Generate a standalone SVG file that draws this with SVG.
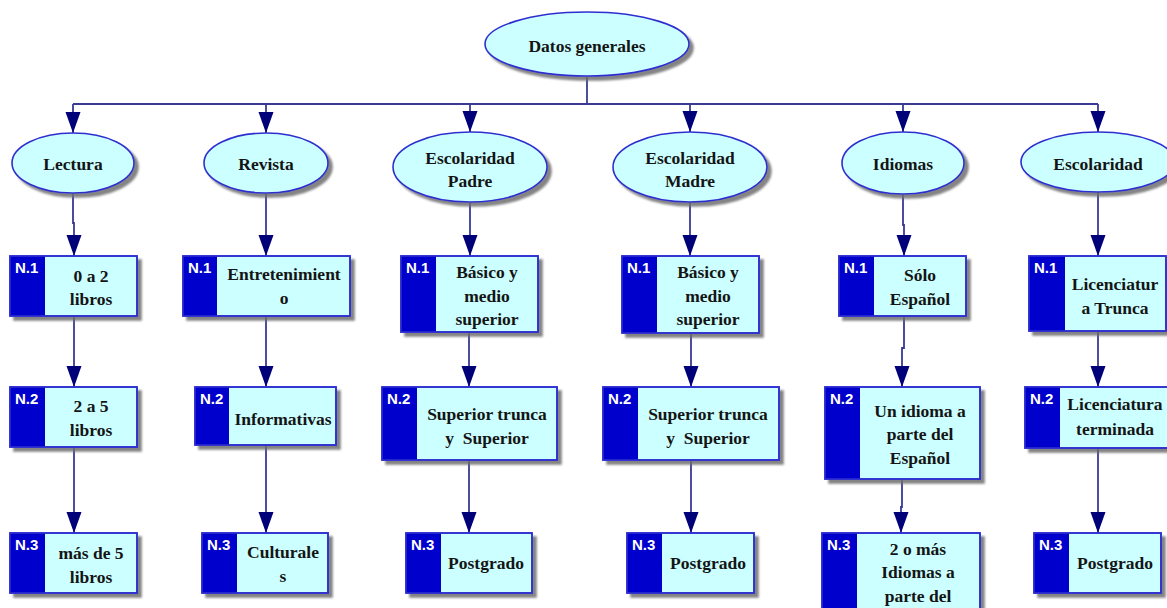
<svg xmlns="http://www.w3.org/2000/svg" width="1167" height="608" viewBox="0 0 1167 608">
  <defs>
    <style>
      .oval { fill: #ccffff; stroke: #2f2fd0; stroke-width: 1.6; filter: url(#shade); }
      .box { fill: #ccffff; stroke: #2f2fd0; stroke-width: 1.6; filter: url(#shade); }
      .tab { fill: #0000cc; }
      .edge { fill: none; stroke: #2f2fd0; stroke-width: 1.6; }
      .t { font-family: "Liberation Serif", "Times New Roman", serif; font-weight: bold; font-size: 17.5px; fill: #141414; text-anchor: middle; }
      .n { font-family: "Liberation Sans", Arial, sans-serif; font-weight: bold; font-size: 15px; fill: #ffffff; }
      .wire { fill: none; stroke: #3a3a94; stroke-width: 1.8; marker-end: url(#head); }
      .bus { fill: none; stroke: #3a3a94; stroke-width: 1.8; }
    </style>
    <filter id="shade" x="-10%" y="-10%" width="130%" height="140%">
      <feDropShadow dx="4" dy="4" stdDeviation="1" flood-color="#6e6e6e" flood-opacity="0.85"/>
    </filter>
    <marker id="head" viewBox="0 -8 22 16" refX="21" refY="0" markerWidth="22" markerHeight="16" markerUnits="userSpaceOnUse" orient="auto">
      <path d="M0,-7.5 L21,0 L0,7.5 Z" fill="#000078"/>
    </marker>
  </defs>

  <!-- connectors -->
  <g id="connectors">
    <path class="bus" d="M587,76 V104"/>
    <path class="bus" d="M73,104 H1098"/>
    <path class="wire" d="M73,104 V133"/>
    <path class="wire" d="M266,104 V133"/>
    <path class="wire" d="M470,104 V132"/>
    <path class="wire" d="M690,104 V132"/>
    <path class="wire" d="M903,104 V132"/>
    <path class="wire" d="M1098,104 V132"/>

    <path class="wire" d="M73,193 V223 H74 V256"/>
    <path class="wire" d="M74,316 V387"/>
    <path class="wire" d="M74,447 V533"/>

    <path class="wire" d="M266,193 V256"/>
    <path class="wire" d="M266,316 V387"/>
    <path class="wire" d="M266,445 V533"/>

    <path class="wire" d="M470,202 V256"/>
    <path class="wire" d="M469,332 V387"/>
    <path class="wire" d="M469,460 V533"/>

    <path class="wire" d="M690,202 V256"/>
    <path class="wire" d="M691,333 V387"/>
    <path class="wire" d="M691,460 V533"/>

    <path class="wire" d="M903,194 V225 H904 V256"/>
    <path class="wire" d="M904,316 V348 H902 V387"/>
    <path class="wire" d="M902,479 V507 H901 V533"/>

    <path class="wire" d="M1098,192 V256"/>
    <path class="wire" d="M1098,331 V387"/>
    <path class="wire" d="M1098,448 V533"/>
  </g>

  <!-- root -->
  <g id="datos-generales">
    <ellipse class="oval" cx="587" cy="44" rx="102" ry="32"/>
    <text class="t" x="587" y="52">Datos generales</text>
  </g>

  <!-- categories -->
  <g id="lectura">
    <ellipse class="oval" cx="73" cy="163" rx="61" ry="30"/>
    <text class="t" x="73" y="170">Lectura</text>
  </g>
  <g id="revista">
    <ellipse class="oval" cx="266" cy="163" rx="62" ry="30"/>
    <text class="t" x="266" y="170">Revista</text>
  </g>
  <g id="escolaridad-padre">
    <ellipse class="oval" cx="470" cy="167" rx="77" ry="35"/>
    <text class="t" x="470" y="164">Escolaridad</text>
    <text class="t" x="470" y="187">Padre</text>
  </g>
  <g id="escolaridad-madre">
    <ellipse class="oval" cx="690" cy="167" rx="77" ry="35"/>
    <text class="t" x="690" y="164">Escolaridad</text>
    <text class="t" x="690" y="187">Madre</text>
  </g>
  <g id="idiomas">
    <ellipse class="oval" cx="903" cy="163" rx="61" ry="31"/>
    <text class="t" x="903" y="170">Idiomas</text>
  </g>
  <g id="escolaridad">
    <ellipse class="oval" cx="1098" cy="162" rx="77" ry="30"/>
    <text class="t" x="1098" y="170">Escolaridad</text>
  </g>

  <!-- Lectura levels -->
  <g id="lectura-n1">
    <rect class="box" x="10" y="256" width="127" height="60"/>
    <rect class="tab" x="10" y="256" width="35" height="60"/>
    <rect class="edge" x="10" y="256" width="127" height="60"/>
    <text class="n" x="15" y="273">N.1</text>
    <text class="t" x="91" y="282">0 a 2</text>
    <text class="t" x="91" y="305">libros</text>
  </g>
  <g id="lectura-n2">
    <rect class="box" x="10" y="387" width="127" height="60"/>
    <rect class="tab" x="10" y="387" width="35" height="60"/>
    <rect class="edge" x="10" y="387" width="127" height="60"/>
    <text class="n" x="15" y="404">N.2</text>
    <text class="t" x="91" y="412">2 a 5</text>
    <text class="t" x="91" y="436">libros</text>
  </g>
  <g id="lectura-n3">
    <rect class="box" x="10" y="533" width="127" height="60"/>
    <rect class="tab" x="10" y="533" width="35" height="60"/>
    <rect class="edge" x="10" y="533" width="127" height="60"/>
    <text class="n" x="15" y="550">N.3</text>
    <text class="t" x="91" y="559">más de 5</text>
    <text class="t" x="91" y="583">libros</text>
  </g>

  <!-- Revista levels -->
  <g id="revista-n1">
    <rect class="box" x="183" y="256" width="167" height="60"/>
    <rect class="tab" x="183" y="256" width="34" height="60"/>
    <rect class="edge" x="183" y="256" width="167" height="60"/>
    <text class="n" x="188" y="273">N.1</text>
    <text class="t" x="284" y="280">Entretenimient</text>
    <text class="t" x="284" y="304">o</text>
  </g>
  <g id="revista-n2">
    <rect class="box" x="195" y="387" width="141" height="58"/>
    <rect class="tab" x="195" y="387" width="34" height="58"/>
    <rect class="edge" x="195" y="387" width="141" height="58"/>
    <text class="n" x="200" y="404">N.2</text>
    <text class="t" x="283" y="425">Informativas</text>
  </g>
  <g id="revista-n3">
    <rect class="box" x="202" y="533" width="126" height="60"/>
    <rect class="tab" x="202" y="533" width="35" height="60"/>
    <rect class="edge" x="202" y="533" width="126" height="60"/>
    <text class="n" x="207" y="550">N.3</text>
    <text class="t" x="283" y="558">Culturale</text>
    <text class="t" x="283" y="582">s</text>
  </g>

  <!-- Escolaridad Padre levels -->
  <g id="padre-n1">
    <rect class="box" x="401" y="256" width="137" height="76"/>
    <rect class="tab" x="401" y="256" width="35" height="76"/>
    <rect class="edge" x="401" y="256" width="137" height="76"/>
    <text class="n" x="406" y="273">N.1</text>
    <text class="t" x="487" y="278">Básico y</text>
    <text class="t" x="487" y="302">medio</text>
    <text class="t" x="487" y="325">superior</text>
  </g>
  <g id="padre-n2">
    <rect class="box" x="382" y="387" width="175" height="73"/>
    <rect class="tab" x="382" y="387" width="35" height="73"/>
    <rect class="edge" x="382" y="387" width="175" height="73"/>
    <text class="n" x="387" y="404">N.2</text>
    <text class="t" x="487" y="420">Superior trunca</text>
    <text class="t" x="487" y="444" xml:space="preserve">y  Superior</text>
  </g>
  <g id="padre-n3">
    <rect class="box" x="406" y="533" width="126" height="60"/>
    <rect class="tab" x="406" y="533" width="35" height="60"/>
    <rect class="edge" x="406" y="533" width="126" height="60"/>
    <text class="n" x="411" y="550">N.3</text>
    <text class="t" x="486" y="569">Postgrado</text>
  </g>

  <!-- Escolaridad Madre levels -->
  <g id="madre-n1">
    <rect class="box" x="622" y="256" width="137" height="77"/>
    <rect class="tab" x="622" y="256" width="35" height="77"/>
    <rect class="edge" x="622" y="256" width="137" height="77"/>
    <text class="n" x="627" y="273">N.1</text>
    <text class="t" x="708" y="278">Básico y</text>
    <text class="t" x="708" y="302">medio</text>
    <text class="t" x="708" y="325">superior</text>
  </g>
  <g id="madre-n2">
    <rect class="box" x="603" y="387" width="176" height="73"/>
    <rect class="tab" x="603" y="387" width="35" height="73"/>
    <rect class="edge" x="603" y="387" width="176" height="73"/>
    <text class="n" x="608" y="404">N.2</text>
    <text class="t" x="708" y="420">Superior trunca</text>
    <text class="t" x="708" y="444" xml:space="preserve">y  Superior</text>
  </g>
  <g id="madre-n3">
    <rect class="box" x="627" y="533" width="127" height="60"/>
    <rect class="tab" x="627" y="533" width="35" height="60"/>
    <rect class="edge" x="627" y="533" width="127" height="60"/>
    <text class="n" x="632" y="550">N.3</text>
    <text class="t" x="708" y="569">Postgrado</text>
  </g>

  <!-- Idiomas levels -->
  <g id="idiomas-n1">
    <rect class="box" x="839" y="256" width="127" height="60"/>
    <rect class="tab" x="839" y="256" width="35" height="60"/>
    <rect class="edge" x="839" y="256" width="127" height="60"/>
    <text class="n" x="844" y="273">N.1</text>
    <text class="t" x="920" y="281">Sólo</text>
    <text class="t" x="920" y="305">Español</text>
  </g>
  <g id="idiomas-n2">
    <rect class="box" x="825" y="387" width="155" height="92"/>
    <rect class="tab" x="825" y="387" width="35" height="92"/>
    <rect class="edge" x="825" y="387" width="155" height="92"/>
    <text class="n" x="830" y="404">N.2</text>
    <text class="t" x="920" y="417">Un idioma a</text>
    <text class="t" x="920" y="440">parte del</text>
    <text class="t" x="920" y="464">Español</text>
  </g>
  <g id="idiomas-n3">
    <rect class="box" x="822" y="533" width="158" height="92"/>
    <rect class="tab" x="822" y="533" width="35" height="92"/>
    <rect class="edge" x="822" y="533" width="158" height="92"/>
    <text class="n" x="827" y="550">N.3</text>
    <text class="t" x="918" y="555">2 o más</text>
    <text class="t" x="918" y="578">Idiomas a</text>
    <text class="t" x="918" y="602">parte del</text>
  </g>

  <!-- Escolaridad levels -->
  <g id="escolaridad-n1">
    <rect class="box" x="1029" y="256" width="137" height="75"/>
    <rect class="tab" x="1029" y="256" width="36" height="75"/>
    <rect class="edge" x="1029" y="256" width="137" height="75"/>
    <text class="n" x="1034" y="273">N.1</text>
    <text class="t" x="1115" y="290">Licenciatur</text>
    <text class="t" x="1115" y="314">a Trunca</text>
  </g>
  <g id="escolaridad-n2">
    <rect class="box" x="1025" y="387" width="146" height="61"/>
    <rect class="tab" x="1025" y="387" width="35" height="61"/>
    <rect class="edge" x="1025" y="387" width="146" height="61"/>
    <text class="n" x="1030" y="404">N.2</text>
    <text class="t" x="1115" y="410">Licenciatura</text>
    <text class="t" x="1115" y="435">terminada</text>
  </g>
  <g id="escolaridad-n3">
    <rect class="box" x="1034" y="533" width="127" height="60"/>
    <rect class="tab" x="1034" y="533" width="35" height="60"/>
    <rect class="edge" x="1034" y="533" width="127" height="60"/>
    <text class="n" x="1039" y="550">N.3</text>
    <text class="t" x="1115" y="569">Postgrado</text>
  </g>
</svg>
